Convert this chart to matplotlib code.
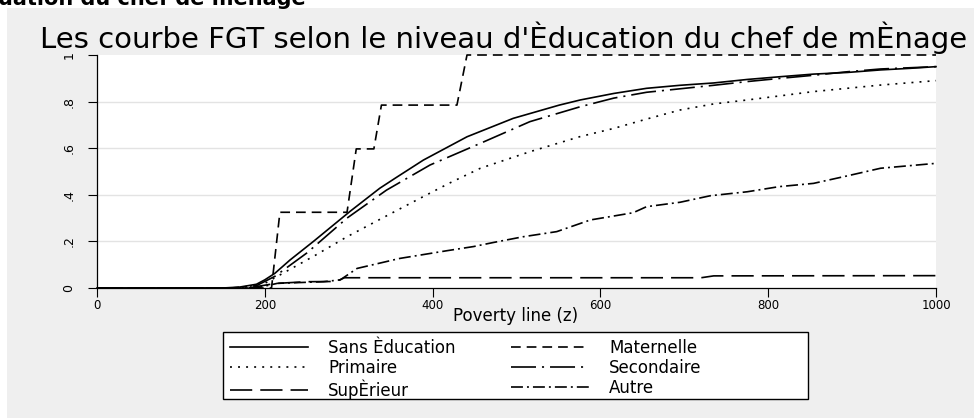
import matplotlib
matplotlib.use('Agg')
import matplotlib.pyplot as plt
from matplotlib.patches import Rectangle
from matplotlib.lines import Line2D

# ---------------- data ----------------
title_text = "Les courbe FGT selon le niveau d'Èducation du chef de mÈnage"
top_text = "uation du chef de ménage"
x_label = "Poverty line (z)"
x_ticks = [0, 200, 400, 600, 800, 1000]
y_ticks = [0, 0.2, 0.4, 0.6, 0.8, 1.0]
y_ticklabels = ['0', '.2', '.4', '.6', '.8', '1']

sans_z = [0, 150, 170, 190, 200, 212, 230, 258, 280, 302, 337, 357, 389, 441, 496, 551, 576,
          616, 655, 695, 735, 775, 815, 854, 894, 934, 970, 1000]
sans_v = [0, 0, 0.004, 0.016, 0.035, 0.063, 0.12, 0.2, 0.265, 0.33, 0.428, 0.475, 0.549, 0.649,
          0.728, 0.785, 0.807, 0.835, 0.857, 0.87, 0.88, 0.895, 0.907, 0.918, 0.925, 0.936, 0.943, 0.95]

mat_z = [0, 208, 218, 298, 309, 330, 339, 429, 441, 1000]
mat_v = [0, 0, 0.325, 0.325, 0.597, 0.597, 0.785, 0.785, 1.0, 1.0]

prim_z = [0, 170, 200, 230, 260, 298, 340, 385, 420, 457, 516, 576, 616, 655, 695, 735, 775,
          815, 854, 894, 934, 1000]
prim_v = [0, 0, 0.02, 0.08, 0.14, 0.22, 0.3, 0.385, 0.45, 0.514, 0.585, 0.65, 0.685, 0.725,
          0.764, 0.79, 0.807, 0.825, 0.843, 0.857, 0.871, 0.89]

sec_z = [0, 160, 190, 212, 250, 298, 345, 397, 457, 516, 576, 616, 655, 695, 735, 775, 815,
         854, 894, 934, 1000]
sec_v = [0, 0, 0.01, 0.05, 0.15, 0.3, 0.42, 0.528, 0.621, 0.714, 0.778, 0.815, 0.84, 0.855,
         0.87, 0.886, 0.9, 0.913, 0.928, 0.94, 0.95]

sup_z = [0, 180, 205, 215, 250, 285, 295, 720, 735, 1000]
sup_v = [0, 0, 0.015, 0.02, 0.027, 0.028, 0.044, 0.044, 0.052, 0.053]

aut_z = [0, 190, 215, 270, 290, 310, 361, 417, 449, 472, 508, 548, 588, 639, 655, 695, 731,
         775, 813, 854, 894, 934, 1000]
aut_v = [0, 0, 0.02, 0.027, 0.035, 0.084, 0.127, 0.16, 0.178, 0.195, 0.22, 0.242, 0.292,
         0.323, 0.349, 0.368, 0.396, 0.413, 0.435, 0.449, 0.481, 0.514, 0.535]

labels = ['Sans Èducation', 'Maternelle', 'Primaire', 'Secondaire', 'SupÈrieur', 'Autre']

# ---------------- styling ----------------
plt.rcParams['font.family'] = ['DejaVu Sans']
plt.rcParams['lines.scale_dashes'] = False

styles = {
    'Sans Èducation': '-',
    'Maternelle': (0, (7, 4.3)),
    'Primaire': (0, (1.4, 4.4)),
    'Secondaire': (0, (18, 4.3, 1.5, 4.3)),
    'SupÈrieur': (0, (16, 5.8)),
    'Autre': (0, (8.6, 2.9, 1.4, 2.9)),
}
series = {
    'Sans Èducation': (sans_z, sans_v),
    'Maternelle': (mat_z, mat_v),
    'Primaire': (prim_z, prim_v),
    'Secondaire': (sec_z, sec_v),
    'SupÈrieur': (sup_z, sup_v),
    'Autre': (aut_z, aut_v),
}

W, H = 974, 418
fig = plt.figure(figsize=(W / 100, H / 100), dpi=100, facecolor='white')
fig.add_artist(Rectangle((7 / W, 0), 1 - 7 / W, (H - 8) / H, transform=fig.transFigure,
                         facecolor='#efefef', edgecolor='none', zorder=0))

ax = fig.add_axes([97 / W, (H - 288) / H, (936 - 97) / W, (288 - 55) / H])
ax.set_facecolor('white')
for yv in y_ticks[1:-1]:
    ax.axhline(yv, color='#e3e3e3', lw=1.0, zorder=0.5)

lw = 1.2
for name in labels:
    z, v = series[name]
    ax.plot(z, v, color='black', lw=lw, linestyle=styles[name], clip_on=False, zorder=3)

ax.set_xlim(0, 1000)
ax.set_ylim(0, 1)
ax.set_xticks(x_ticks)
ax.set_xticklabels([str(t) for t in x_ticks])
ax.set_yticks(y_ticks)
ax.set_yticklabels(y_ticklabels, rotation=90, va='center')
ax.tick_params(direction='out', length=6.5, width=0.8, labelsize=8.5, color='black')
ax.tick_params(axis='x', pad=1.5)
ax.tick_params(axis='y', pad=9, labelsize=9)
for s in ['top', 'right']:
    ax.spines[s].set_visible(False)
for s in ['left', 'bottom']:
    ax.spines[s].set_linewidth(0.9)
    ax.spines[s].set_color('black')

fig.text(40 / W, 1 - 48 / H, title_text, fontsize=21, ha='left', va='baseline')
fig.text(-2 / W, 1 - 5 / H, top_text, fontsize=15, fontweight='bold', ha='left', va='baseline')
fig.text(516 / W, 1 - 321 / H, x_label, fontsize=12, ha='center', va='baseline')

# legend frame
fig.add_artist(Rectangle((223 / W, (H - 399) / H), 585 / W, 67 / H, transform=fig.transFigure,
                         facecolor='white', edgecolor='black', lw=1.0, zorder=1))
order = ['Sans Èducation', 'Primaire', 'SupÈrieur', 'Maternelle', 'Secondaire', 'Autre']
handles = [Line2D([], [], color='black', lw=lw, linestyle=styles[n]) for n in order]
leg = fig.legend(handles, order, ncol=2, loc='upper left',
                 bbox_to_anchor=(230 / W, (H - 339) / H), bbox_transform=fig.transFigure,
                 frameon=False, fontsize=12, handlelength=4.7, handletextpad=1.2,
                 columnspacing=3.3, labelspacing=0.12, borderpad=0, borderaxespad=0)
leg.set_zorder(2)

fig.savefig('out.png', dpi=100, facecolor='white')
